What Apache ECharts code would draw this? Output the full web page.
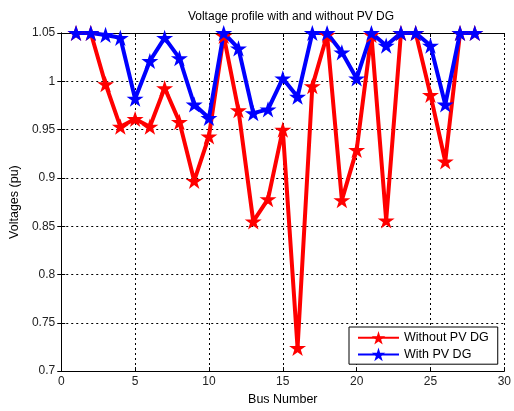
<!DOCTYPE html>
<html>
<head>
<meta charset="utf-8">
<script src="https://cdn.jsdelivr.net/npm/echarts@6/dist/echarts.min.js"></script>
<style>
  html, body { margin: 0; padding: 0; background: #fff; }
  #chart { width: 514px; height: 411px; }
</style>
</head>
<body>
<div id="chart"></div>
<script>
// bus numbers and voltages (pu)
const buses = [1, 2, 3, 4, 5, 6, 7, 8, 9, 10, 11, 12, 13, 14, 15, 16, 17, 18, 19, 20, 21, 22, 23, 24, 25, 26, 27, 28];
const withoutPV = [1.05, 1.05, 0.997, 0.953, 0.961, 0.953, 0.993, 0.958, 0.897, 0.943, 1.047, 0.970, 0.855, 0.878, 0.950, 0.724, 0.995, 1.048, 0.877, 0.929, 1.048, 0.856, 1.05, 1.05, 0.986, 0.917, 1.05, 1.05];
const withPV = [1.05, 1.05, 1.048, 1.045, 0.982, 1.021, 1.045, 1.024, 0.976, 0.962, 1.05, 1.034, 0.967, 0.971, 1.003, 0.984, 1.05, 1.05, 1.030, 1.003, 1.05, 1.037, 1.05, 1.05, 1.037, 0.976, 1.05, 1.05];
const seriesNames = ["Without PV DG", "With PV DG"];

const star = "path://M0,-1L0.2245,-0.309L0.951,-0.309L0.363,0.118L0.588,0.809L0,0.382L-0.588,0.809L-0.363,0.118L-0.951,-0.309L-0.2245,-0.309Z";
const font = "Liberation Sans";

const chart = echarts.init(document.getElementById("chart"));

function makeSeries(name, values, color) {
  return {
    name: name,
    type: "line",
    data: buses.map((b, i) => [b, values[i]]),
    symbol: star,
    symbolSize: 17,
    symbolKeepAspect: true,
    showAllSymbol: true,
    lineStyle: { color: color, width: 4 },
    itemStyle: { color: color, borderWidth: 0 },
    animation: false
  };
}

const frameAxis = {
  axisLine: { show: true, lineStyle: { color: "#000", width: 1 } },
  axisTick: { show: true, inside: true, length: 4, lineStyle: { color: "#000" } },
  splitLine: { show: false },
  axisLabel: { show: false }
};

chart.setOption({
  backgroundColor: "#fff",
  title: {
    text: "Voltage profile with and without PV DG",
    left: 286,
    textAlign: "center",
    top: 6,
    textStyle: { fontFamily: font, fontSize: 12, fontWeight: "normal", color: "#000" }
  },
  grid: { left: 60, right: 6, top: 33, bottom: 36 },
  legend: {
    orient: "vertical",
    left: 349,
    top: 327,
    padding: [4, 9, 3, 8],
    itemGap: 3,
    itemWidth: 41,
    itemHeight: 17,
    borderColor: "#000",
    borderWidth: 1,
    backgroundColor: "#fff",
    textStyle: { fontFamily: font, fontSize: 12.5, color: "#000" },
    data: seriesNames
  },
  xAxis: [
    {
      type: "value",
      min: 0,
      max: 30,
      interval: 5,
      name: "Bus Number",
      nameLocation: "middle",
      nameGap: 21,
      nameTextStyle: { fontFamily: font, fontSize: 12.5, color: "#000" },
      axisLine: { show: true, lineStyle: { color: "#000", width: 1 } },
      axisTick: { show: true, inside: true, length: 4, lineStyle: { color: "#000" } },
      axisLabel: { fontFamily: font, fontSize: 12, color: "#222", margin: 5 },
      splitLine: { show: true, lineStyle: { color: "#000", type: [2, 3], width: 1 } }
    },
    Object.assign({ type: "value", position: "top", min: 0, max: 30, interval: 5 }, frameAxis)
  ],
  yAxis: [
    {
      type: "value",
      min: 0.7,
      max: 1.05,
      interval: 0.05,
      name: "Voltages (pu)",
      nameLocation: "middle",
      nameGap: 38,
      nameTextStyle: { fontFamily: font, fontSize: 12.5, color: "#000" },
      axisLine: { show: true, lineStyle: { color: "#000", width: 1 } },
      axisTick: { show: true, inside: true, length: 4, lineStyle: { color: "#000" } },
      axisLabel: {
        fontFamily: font, fontSize: 12, color: "#222", margin: 6,
        formatter: (v) => String(Math.round(v * 100) / 100)
      },
      splitLine: { show: true, lineStyle: { color: "#000", type: [2, 3], width: 1 } }
    },
    Object.assign({ type: "value", position: "right", min: 0.7, max: 1.05, interval: 0.05 }, frameAxis)
  ],
  series: [
    makeSeries(seriesNames[0], withoutPV, "#ff0000"),
    makeSeries(seriesNames[1], withPV, "#0000ff")
  ]
});
</script>
</body>
</html>
